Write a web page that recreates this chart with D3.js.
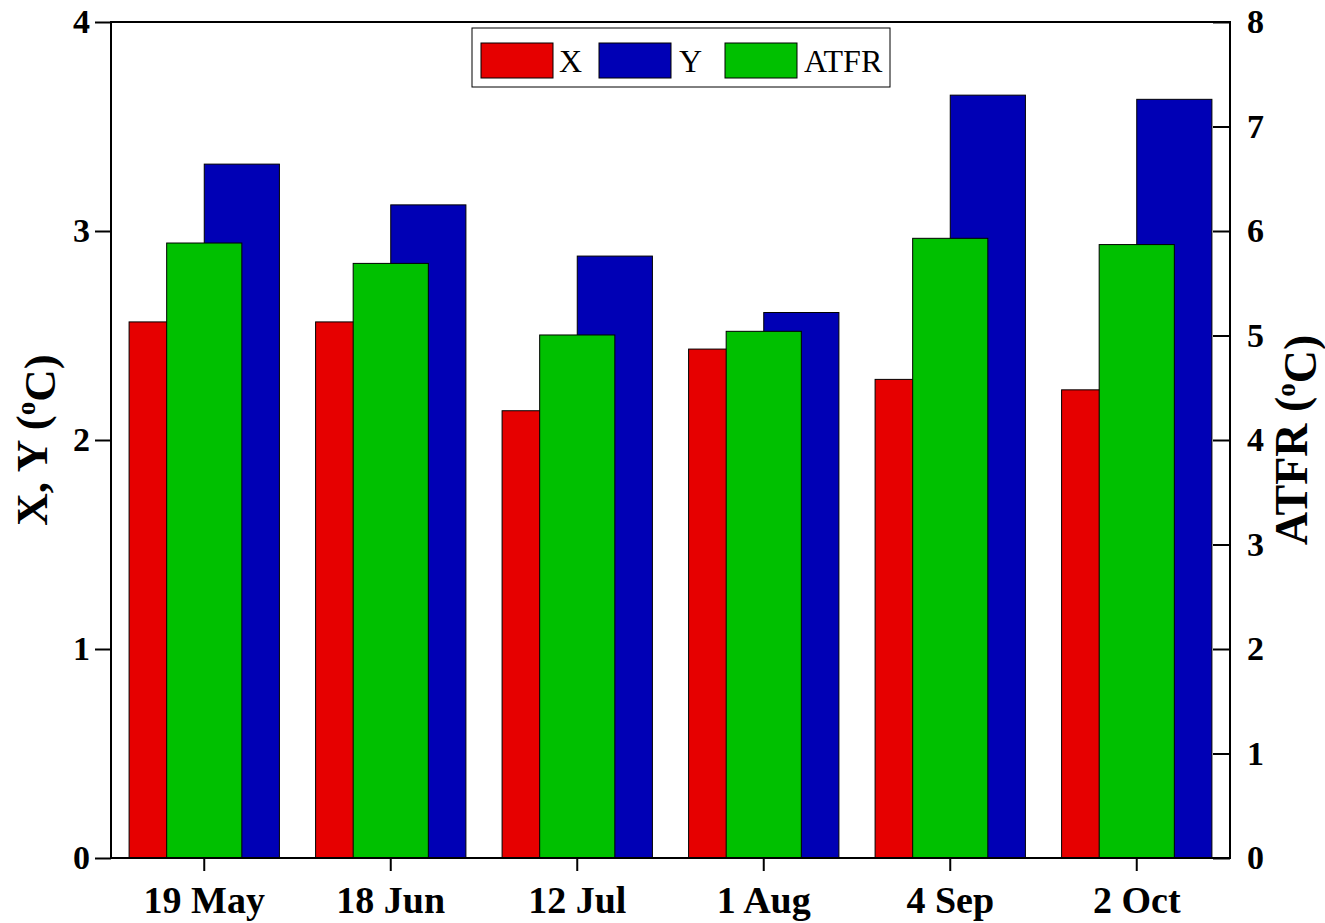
<!DOCTYPE html>
<html>
<head>
<meta charset="utf-8">
<script src="https://cdn.jsdelivr.net/npm/d3@7"></script>
<style>
  html, body { margin: 0; padding: 0; background: #fff; }
  svg { display: block; font-family: "Liberation Serif", "Times New Roman", serif; }
</style>
</head>
<body>
<svg id="chart" width="1325" height="923"></svg>
<script>
// Sampling dates
const categories = ["19 May", "18 Jun", "12 Jul", "1 Aug", "4 Sep", "2 Oct"];
// X and Y on the left axis (°C)
const xValues = [2.565, 2.565, 2.14, 2.435, 2.29, 2.24];
const yValues = [3.32, 3.125, 2.88, 2.61, 3.65, 3.63];
// ATFR on the right axis (°C)
const atfrValues = [5.885, 5.69, 5.005, 5.04, 5.93, 5.87];

const leftTicks = [0, 1, 2, 3, 4];
const rightTicks = [0, 1, 2, 3, 4, 5, 6, 7, 8];

const colors = { X: "#e60000", Y: "#0000b5", ATFR: "#00c000" };

const svg = d3.select("#chart");
const m = { left: 111, right: 1230, top: 22, bottom: 858 };

const x = d3.scaleBand().domain(categories).range([m.left, m.right]).padding(0);
const yL = d3.scaleLinear().domain([0, 4]).range([m.bottom, m.top]);
const yR = d3.scaleLinear().domain([0, 8]).range([m.bottom, m.top]);
const bw = x.bandwidth() * 0.403;

const rows = categories.map((c, i) => ({ c, x: xValues[i], y: yValues[i], a: atfrValues[i] }));

const bars = svg.append("g");
// X bars sit left of the group centre
bars.selectAll(".bx").data(rows).join("rect")
  .attr("x", d => x(d.c) + x.bandwidth() / 2 - bw)
  .attr("y", d => yL(d.x))
  .attr("width", bw)
  .attr("height", d => yL(0) - yL(d.x))
  .attr("fill", colors.X).attr("stroke", "#000").attr("stroke-width", 1);
// Y bars sit right of the group centre
bars.selectAll(".by").data(rows).join("rect")
  .attr("x", d => x(d.c) + x.bandwidth() / 2)
  .attr("y", d => yL(d.y))
  .attr("width", bw)
  .attr("height", d => yL(0) - yL(d.y))
  .attr("fill", colors.Y).attr("stroke", "#000").attr("stroke-width", 1);
// ATFR bars centred on top, scaled by the right axis
bars.selectAll(".ba").data(rows).join("rect")
  .attr("x", d => x(d.c) + x.bandwidth() / 2 - bw / 2)
  .attr("y", d => yR(d.a))
  .attr("width", bw)
  .attr("height", d => yR(0) - yR(d.a))
  .attr("fill", colors.ATFR).attr("stroke", "#000").attr("stroke-width", 1);

// Frame
svg.append("rect")
  .attr("x", m.left).attr("y", m.top)
  .attr("width", m.right - m.left).attr("height", m.bottom - m.top)
  .attr("fill", "none").attr("stroke", "#000").attr("stroke-width", 2);

function styleAxis(g, size) {
  g.attr("font-size", size).attr("font-family", '"Liberation Serif", "Times New Roman", serif');
  g.select(".domain").remove();
  g.selectAll(".tick line").attr("stroke", "#000").attr("stroke-width", 2);
  g.selectAll(".tick text").attr("fill", "#000")
    .attr("font-weight", "bold").attr("font-size", size);
}

svg.append("g").attr("transform", `translate(0,${m.bottom})`)
  .call(d3.axisBottom(x).tickSize(13).tickPadding(15))
  .call(g => styleAxis(g, 38));

svg.append("g").attr("transform", `translate(${m.left},0)`)
  .call(d3.axisLeft(yL).tickValues(leftTicks).tickFormat(d3.format("d")).tickSize(16).tickPadding(5))
  .call(g => styleAxis(g, 34));

svg.append("g").attr("transform", `translate(${m.right},0)`)
  .call(d3.axisRight(yR).tickValues(rightTicks).tickFormat(d3.format("d")).tickSize(-17).tickPadding(17))
  .call(g => styleAxis(g, 34));

// Axis titles
const lt = svg.append("text")
  .attr("transform", `translate(47,${(m.top + m.bottom) / 2}) rotate(-90)`)
  .attr("text-anchor", "middle")
  .style("font-weight", "bold").style("font-size", "45px");
lt.append("tspan").text("X, Y (");
lt.append("tspan").attr("dy", "-0.45em").style("font-size", "27px").text("o");
lt.append("tspan").attr("dy", "0.45em").text("C)");

const rt = svg.append("text")
  .attr("transform", `translate(1307,${(m.top + m.bottom) / 2}) rotate(-90)`)
  .attr("text-anchor", "middle")
  .style("font-weight", "bold").style("font-size", "46px");
rt.append("tspan").text("ATFR (");
rt.append("tspan").attr("dy", "-0.45em").style("font-size", "27px").text("o");
rt.append("tspan").attr("dy", "0.45em").text("C)");

// Legend
const legendItems = [
  { key: "X", sx: 481, tx: 559 },
  { key: "Y", sx: 599, tx: 679 },
  { key: "ATFR", sx: 725, tx: 804 }
];
const lg = svg.append("g");
lg.append("rect").attr("x", 472).attr("y", 28).attr("width", 418).attr("height", 59)
  .attr("fill", "#fff").attr("stroke", "#000").attr("stroke-width", 1);
legendItems.forEach(it => {
  lg.append("rect").attr("x", it.sx).attr("y", 43).attr("width", 72).attr("height", 35)
    .attr("fill", colors[it.key]).attr("stroke", "#000").attr("stroke-width", 1);
  lg.append("text").attr("x", it.tx).attr("y", 72)
    .style("font-size", "32px").attr("fill", "#000").text(it.key);
});
</script>
</body>
</html>
